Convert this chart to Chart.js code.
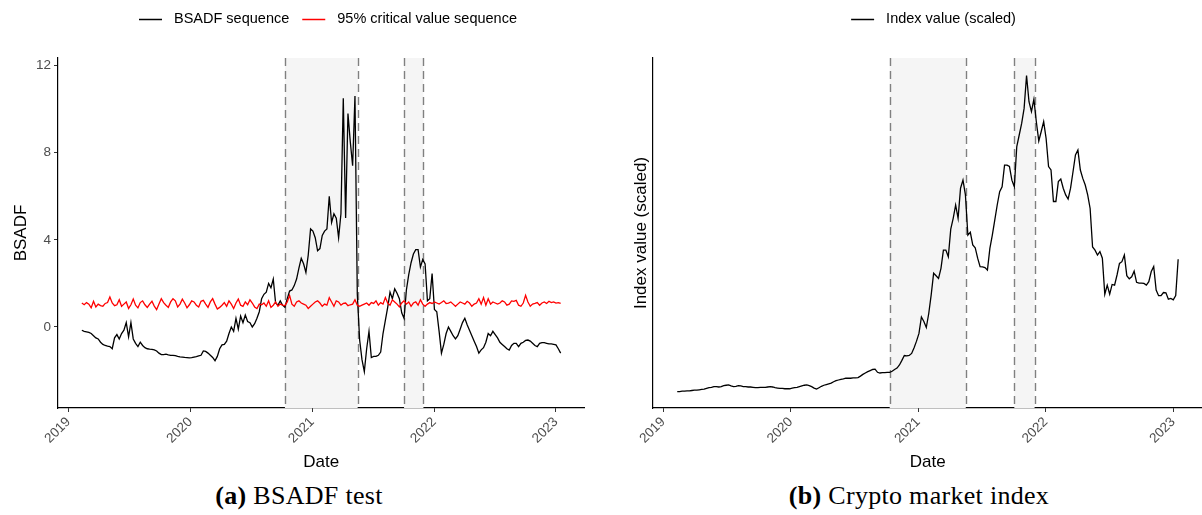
<!DOCTYPE html>
<html>
<head>
<meta charset="utf-8">
<script src="https://cdn.jsdelivr.net/npm/chart.js@4.4.0/dist/chart.umd.min.js"></script>
<style>
  html, body { margin: 0; padding: 0; background: #fff; overflow: hidden; }
  #wrap { position: relative; width: 1202px; height: 515px; overflow: hidden; }
  #left { position: absolute; left: 0; top: 0; }
  #right { position: absolute; left: 600px; top: 0; }
  .cap { position: absolute; top: 481px; font-family: "Liberation Serif", serif; font-size: 26px;
         letter-spacing: 0.3px; color: #000; white-space: nowrap; transform: translateX(-50%); }
</style>
</head>
<body>
<div id="wrap">
  <canvas id="left" width="600" height="475"></canvas>
  <canvas id="right" width="610" height="475"></canvas>
  <div class="cap" style="left:299px"><b>(a)</b> BSADF test</div>
  <div class="cap" style="left:919px"><b>(b)</b> Crypto market index</div>
</div>
<script>
// weekly observations, first week below
const startDate = '2019-02-10';

const bsadf = [
  -0.15, -0.20, -0.22, -0.25, -0.30, -0.40, -0.50, -0.55, -0.70, -0.80,
  -0.85, -0.88, -0.90, -1.00, -0.50, -0.35, -0.55, -0.30, -0.15, 0.20,
  -0.45, 0.20, -0.55, -0.75, -0.90, -0.70, -0.85, -0.95, -1.00, -1.02,
  -1.03, -1.05, -1.10, -1.20, -1.27, -1.27, -1.25, -1.28, -1.30, -1.30,
  -1.32, -1.35, -1.37, -1.38, -1.40, -1.41, -1.42, -1.41, -1.38, -1.36,
  -1.33, -1.30, -1.10, -1.12, -1.20, -1.30, -1.40, -1.55, -1.35, -1.00,
  -0.82, -0.80, -0.65, -0.30, 0.00, -0.20, 0.40, -0.10, 0.50, 0.20,
  0.55, 0.25, 0.20, 0.00, 0.15, 0.40, 0.70, 1.30, 1.50, 1.60,
  2.00, 1.80, 2.20, 1.10, 1.00, 1.20, 1.00, 0.90, 1.30, 1.65,
  1.70, 1.90, 2.20, 2.70, 3.15, 2.90, 2.50, 3.30, 4.50, 4.40,
  4.10, 3.50, 3.60, 4.20, 4.40, 4.50, 6.00, 4.80, 5.20, 5.00,
  4.10, 5.20, 10.50, 5.00, 9.80, 8.50, 7.40, 10.60, 1.50, -0.60,
  -1.50, -2.05, -1.00, -0.20, -1.40, -1.35, -1.35, -1.30, -1.15, -0.30,
  0.30, 0.90, 1.60, 1.30, 1.75, 1.55, 1.30, 0.65, 0.40, 1.70,
  2.40, 2.95, 3.35, 3.55, 3.55, 2.75, 3.10, 2.90, 1.20, 1.30,
  2.45, 0.80, 0.70, -0.20, -1.20, -0.80, -0.30, 0.00, -0.20, -0.40,
  -0.55, -0.40, -0.10, 0.20, 0.40, 0.10, -0.15, -0.40, -0.65, -0.90,
  -1.20, -1.05, -0.95, -0.70, -0.30, -0.40, -0.20, -0.35, -0.50, -0.70,
  -0.80, -0.90, -1.00, -1.06, -0.85, -0.75, -0.75, -0.90, -0.75, -0.70,
  -0.62, -0.60, -0.65, -0.75, -0.85, -0.90, -0.75, -0.72, -0.72, -0.75,
  -0.78, -0.78, -0.80, -0.82, -1.00, -1.20
];

const critical95 = [
  1.10, 1.02, 1.12, 1.05, 0.88, 1.18, 0.92, 1.05, 0.98, 0.95,
  1.08, 1.12, 1.38, 1.10, 0.98, 1.02, 1.25, 0.95, 1.05, 1.15,
  0.85, 1.02, 1.28, 1.00, 0.88, 1.12, 1.20, 1.02, 0.90, 1.05,
  1.18, 0.96, 0.80, 1.05, 1.30, 1.12, 1.00, 0.90, 1.15, 1.30,
  1.20, 0.92, 1.05, 1.28, 1.10, 0.88, 1.02, 1.20, 1.15, 1.00,
  0.92, 1.18, 1.22, 1.05, 0.90, 1.15, 1.30, 1.05, 0.82, 0.90,
  1.00, 1.12, 0.95, 1.20, 1.05, 0.85, 1.10, 1.28, 1.00, 0.95,
  1.15, 1.02, 1.25, 1.10, 0.92, 0.85, 1.05, 1.02, 1.10, 0.95,
  1.20, 0.90, 1.00, 1.15, 0.95, 1.05, 1.00, 0.98, 1.15, 1.45,
  1.05, 0.95, 1.15, 1.20, 1.10, 1.05, 1.00, 0.85, 0.95, 1.05,
  1.15, 1.20, 1.10, 0.95, 1.05, 1.00, 1.35, 1.15, 0.95, 1.20,
  1.15, 1.00, 1.08, 1.10, 0.98, 1.02, 1.05, 1.25, 1.00, 0.95,
  1.00, 1.05, 1.10, 1.00, 1.12, 1.08, 1.20, 1.00, 1.12, 1.05,
  1.35, 1.10, 1.00, 1.25, 1.15, 1.05, 0.92, 1.10, 1.20, 1.05,
  1.15, 0.95, 1.10, 1.15, 1.00, 1.25, 1.05, 0.95, 1.05, 1.12,
  1.08, 1.15, 1.10, 1.05, 1.12, 1.20, 1.08, 1.10, 1.15, 1.05,
  0.95, 1.05, 1.15, 1.10, 1.05, 1.18, 1.10, 0.95, 1.05, 1.10,
  1.30, 1.05, 1.35, 1.00, 1.30, 1.05, 1.15, 1.10, 1.05, 1.10,
  1.20, 1.15, 1.00, 1.05, 1.20, 1.18, 1.22, 1.00, 0.95, 1.10,
  1.45, 1.15, 0.95, 1.05, 1.08, 1.12, 1.00, 1.10, 1.15, 1.08,
  1.18, 1.12, 1.15, 1.10, 1.12, 1.08
];

const indexScaled = [
  4.7, 4.7, 4.8, 4.8, 4.9, 4.9, 5.0, 5.1, 5.1, 5.2,
  5.3, 5.4, 5.6, 5.8, 5.9, 6.1, 6.1, 6.0, 6.1, 6.4,
  6.5, 6.6, 6.3, 6.1, 6.2, 6.4, 6.3, 6.1, 6.1, 6.0,
  6.0, 5.9, 5.8, 5.8, 5.9, 5.9, 5.9, 6.0, 6.1, 6.0,
  5.8, 5.7, 5.6, 5.6, 5.5, 5.5, 5.5, 5.7, 5.8, 5.9,
  6.1, 6.3, 6.5, 6.6, 6.4, 6.1, 5.7, 5.4, 5.8, 6.2,
  6.5, 6.7, 6.9, 7.1, 7.5, 7.8, 8.0, 8.2, 8.3, 8.5,
  8.5, 8.5, 8.6, 8.6, 8.7, 9.1, 9.6, 10.0, 10.4, 10.7,
  11.0, 11.1, 10.2, 10.0, 10.1, 10.1, 10.2, 10.2, 10.5, 11.0,
  11.4, 12.3, 13.6, 15.0, 14.9, 15.0, 15.6, 17.2, 19.1, 21.3,
  26.0, 24.7, 23.0, 27.0, 32.3, 38.5, 37.8, 37.0, 39.9, 45.1,
  45.1, 43.2, 51.1, 54.2, 58.0, 54.2, 62.8, 65.1, 60.9, 49.4,
  50.2, 46.6, 45.8, 42.8, 40.4, 40.3, 40.1, 39.4, 45.6, 49.4,
  53.7, 58.0, 61.8, 63.2, 69.4, 69.4, 69.0, 65.1, 63.2, 74.7,
  78.0, 81.3, 85.6, 95.0, 87.5, 84.7, 88.2, 81.8, 76.3, 79.0,
  81.8, 77.0, 69.0, 68.0, 59.0, 59.0, 64.7, 65.4, 62.8, 60.9,
  59.7, 62.8, 67.5, 72.3, 73.7, 68.0, 65.6, 63.7, 60.9, 57.0,
  46.0, 45.1, 43.7, 44.7, 42.8, 32.5, 35.1, 32.5, 35.3, 35.1,
  38.0, 41.3, 41.8, 43.7, 37.8, 36.9, 37.5, 39.1, 35.9, 35.7,
  35.7, 35.6, 35.1, 36.1, 39.0, 40.4, 33.7, 32.1, 32.1, 33.0,
  32.9, 31.1, 31.3, 30.9, 32.1, 42.5
];

// bubble periods (shaded)
const bubbleStart = ['2020-10-11', '2021-10-03'];
const bubbleEnd = ['2021-05-17', '2021-11-30'];

const yearTicks = [2019, 2020, 2021, 2022, 2023];
const bsadfTicks = [0, 4, 8, 12];

function decYear(s) {
  const d = new Date(s + 'T00:00:00Z');
  const y = d.getUTCFullYear();
  const a = Date.UTC(y, 0, 1), b = Date.UTC(y + 1, 0, 1);
  return y + (d - a) / (b - a);
}
function weekDate(i) {
  const d = new Date(startDate + 'T00:00:00Z');
  d.setUTCDate(d.getUTCDate() + 7 * i);
  return d.toISOString().slice(0, 10);
}
const xs = bsadf.map((_, i) => decYear(weekDate(i)));
const pts = arr => arr.map((v, i) => ({ x: xs[i], y: v }));

const xMin = 2018.914, xMax = 2023.234;
const SANS = '"Liberation Sans", Arial, sans-serif';

const bubbles = {
  id: 'bubbles',
  beforeDatasetsDraw(chart) {
    const { ctx, chartArea: a, scales: { x } } = chart;
    ctx.save();
    ctx.fillStyle = '#f5f5f5';
    bubbleStart.forEach((s, k) => {
      const x0 = x.getPixelForValue(decYear(s));
      const x1 = x.getPixelForValue(decYear(bubbleEnd[k]));
      ctx.fillRect(x0, a.top, x1 - x0, a.bottom - a.top);
    });
    ctx.strokeStyle = '#808080';
    ctx.lineWidth = 1.4;
    ctx.setLineDash([8, 5]);
    bubbleStart.concat(bubbleEnd).forEach(s => {
      const px = Math.round(x.getPixelForValue(decYear(s))) + 0.5;
      ctx.beginPath();
      ctx.moveTo(px, a.top);
      ctx.lineTo(px, a.bottom);
      ctx.stroke();
    });
    ctx.restore();
  }
};

const deco = {
  id: 'deco',
  afterDraw(chart, args, o) {
    const { ctx, chartArea: a } = chart;
    ctx.save();
    ctx.fillStyle = '#000';
    // x title
    ctx.font = '17px ' + SANS;
    ctx.textAlign = 'center';
    ctx.textBaseline = 'alphabetic';
    ctx.fillText('Date', (a.left + a.right) / 2, 467);
    // y title
    ctx.save();
    ctx.translate(o.yTitleX, (a.top + a.bottom) / 2);
    ctx.rotate(-Math.PI / 2);
    ctx.fillText(o.yTitle, 0, 0);
    ctx.restore();
    // legend
    ctx.font = '14.5px ' + SANS;
    const items = chart.data.datasets.slice().sort((p, q) => q.order - p.order);
    const keyW = 23, gap = 12, sep = 13;
    let total = 0;
    items.forEach((d, k) => {
      total += keyW + gap + ctx.measureText(d.label).width + (k ? sep : 0);
    });
    let x = o.legendCenter - total / 2;
    const y = 19;
    ctx.textAlign = 'left';
    ctx.textBaseline = 'middle';
    items.forEach(d => {
      ctx.strokeStyle = d.borderColor;
      ctx.lineWidth = 1.5;
      ctx.beginPath();
      ctx.moveTo(x, y + 0.5);
      ctx.lineTo(x + keyW, y + 0.5);
      ctx.stroke();
      x += keyW + gap;
      ctx.fillText(d.label, x, y);
      x += ctx.measureText(d.label).width + sep;
    });
    ctx.restore();
  }
};

function xAxis() {
  return {
    type: 'linear', min: xMin, max: xMax,
    afterFit: s => { s.height = 67; },
    afterBuildTicks: s => { s.ticks = yearTicks.map(v => ({ value: v })); },
    ticks: {
      autoSkip: false, minRotation: 45, maxRotation: 45, padding: 2,
      color: '#4d4d4d', font: { family: SANS, size: 13.5 },
      callback: v => String(v)
    },
    grid: { drawOnChartArea: false, drawTicks: true, tickLength: 4, color: '#333', lineWidth: 1 },
    border: { display: true, color: '#000', width: 1.2 }
  };
}

new Chart(document.getElementById('left'), {
  type: 'line',
  data: {
    datasets: [
      { label: 'BSADF sequence', data: pts(bsadf), borderColor: '#000', borderWidth: 1.3, order: 2 },
      { label: '95% critical value sequence', data: pts(critical95), borderColor: '#ff0000', borderWidth: 1.3, order: 1 }
    ]
  },
  options: {
    responsive: false, animation: false,
    layout: { padding: { top: 58, right: 15.5, left: 0, bottom: 0 } },
    elements: { point: { radius: 0 }, line: { tension: 0 } },
    plugins: {
      legend: { display: false }, tooltip: { enabled: false },
      deco: { yTitle: 'BSADF', yTitleX: 26, legendCenter: 328 }
    },
    scales: {
      x: xAxis(),
      y: {
        min: -3.72, max: 12.35,
        afterFit: s => { s.width = 58; },
        afterBuildTicks: s => { s.ticks = bsadfTicks.map(v => ({ value: v })); },
        ticks: { padding: 3, color: '#4d4d4d', font: { family: SANS, size: 13.5 }, callback: v => String(v) },
        grid: { drawOnChartArea: false, drawTicks: true, tickLength: 4, color: '#333', lineWidth: 1 },
        border: { display: true, color: '#000', width: 1.2 }
      }
    }
  },
  plugins: [bubbles, deco]
});

new Chart(document.getElementById('right'), {
  type: 'line',
  data: {
    datasets: [
      { label: 'Index value (scaled)', data: pts(indexScaled), borderColor: '#000', borderWidth: 1.3, order: 1 }
    ]
  },
  options: {
    responsive: false, animation: false,
    layout: { padding: { top: 58, right: 6.9, left: 0, bottom: 0 } },
    elements: { point: { radius: 0 }, line: { tension: 0 } },
    plugins: {
      legend: { display: false }, tooltip: { enabled: false },
      deco: { yTitle: 'Index value (scaled)', yTitleX: 46, legendCenter: 333.5 }
    },
    scales: {
      x: xAxis(),
      y: {
        min: 0, max: 100,
        afterFit: s => { s.width = 52.3; },
        ticks: { display: false },
        grid: { drawOnChartArea: false, drawTicks: false, color: '#333' },
        border: { display: true, color: '#000', width: 1.2 }
      }
    }
  },
  plugins: [bubbles, deco]
});
</script>
</body>
</html>
